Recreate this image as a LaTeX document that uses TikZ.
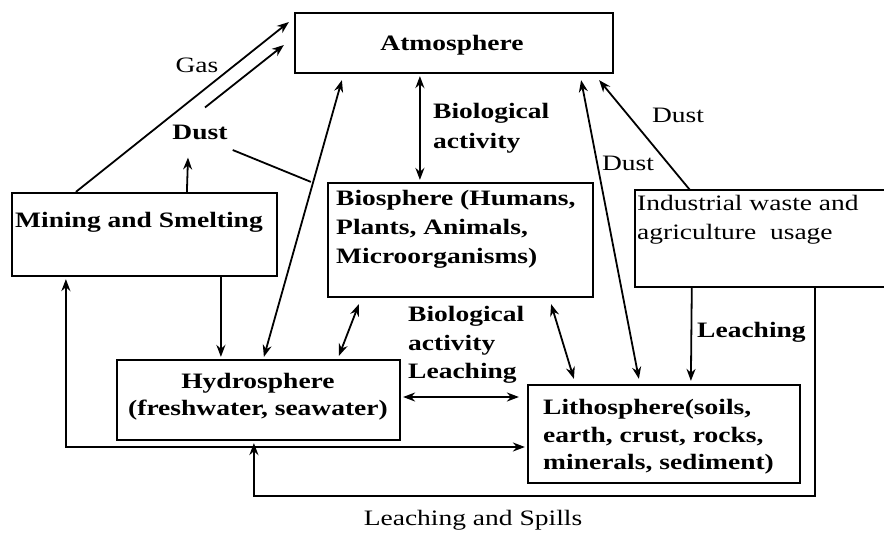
\documentclass[tikz,border=0pt]{standalone}
\usepackage{fontspec}
\setmainfont{Liberation Serif}[FakeStretch=1.25]
\usetikzlibrary{arrows.meta,calc}
\begin{document}
\begin{tikzpicture}[x=1pt,y=-1pt,
  box/.style={draw,line width=2.2pt,inner sep=0pt},
  ghost/.style={inner sep=0pt},
  txt/.style={font=\bfseries\fontsize{22}{28}\selectfont,inner sep=0pt},
  rtxt/.style={font=\fontsize{22}{28}\selectfont,inner sep=0pt},
  conn/.style={line width=1.8pt},
  arr/.style={conn,-{Stealth[length=12pt,width=9pt]}},
  darr/.style={conn,{Stealth[length=12pt,width=9pt]}-{Stealth[length=12pt,width=9pt]}}]
\useasboundingbox (0,0) rectangle (884,533);

% boxes
\node[box,minimum width=318pt,minimum height=60pt] (atm) at (454,43) {};
\node[box,minimum width=265pt,minimum height=83pt] (mine) at (144.5,234.5) {};
\node[box,minimum width=265pt,minimum height=114pt] (bio) at (460.5,240) {};
\node[ghost,minimum width=249pt,minimum height=97pt] (ind) at (759.5,238.5) {};
\draw[line width=2.2pt] (ind.north east) -- (ind.north west) -- (ind.south west) -- (ind.south east);
\node[box,minimum width=283pt,minimum height=80pt] (hyd) at (258.5,400) {};
\node[box,minimum width=272pt,minimum height=98pt] (lith) at (664,434) {};

% box texts
\node[txt] (atmt) at (452,45) {Atmosphere};
\node[txt,anchor=west] (minet) at (15,222) {Mining and Smelting};
\node[txt,anchor=west,align=left,font=\bfseries\fontsize{22}{29}\selectfont] (biot) at (336,229) {Biosphere (Humans,\\Plants, Animals,\\Microorganisms)};
\node[rtxt,anchor=west,align=left,font=\fontsize{22}{29}\selectfont] (indt) at (637,220) {Industrial waste and\\agriculture\ \ usage};
\node[txt,align=center,font=\bfseries\fontsize{22}{27}\selectfont] (hydt) at (258,397) {Hydrosphere\\(freshwater, seawater)};
\node[txt,anchor=west,align=left,font=\bfseries\fontsize{22}{27.5}\selectfont] (litht) at (543,437) {Lithosphere(soils,\\earth, crust, rocks,\\minerals, sediment)};

% labels
\node[rtxt] (gas) at (197,65) {Gas};
\node[txt] (dustL) at (200,132) {Dust};
\node[txt,anchor=west,align=left,font=\bfseries\fontsize{22}{30}\selectfont] (bioact) at (433,128) {Biological\\activity};
\node[rtxt] (dustM) at (628,163) {Dust};
\node[rtxt] (dustR) at (678,115) {Dust};
\node[txt,anchor=west] (leachR) at (697,332) {Leaching};
\node[txt,anchor=west,align=left,font=\bfseries\fontsize{22}{28.5}\selectfont] (bioleach) at (408,345) {Biological\\activity\\Leaching};
\node[rtxt] (spills) at (473,520) {Leaching and Spills};

% connectors
\draw[arr] ($(mine.north west)+(65,0)$) -- ($(atm.west)+(-5,-21)$);
\draw[arr] ($(dustL.north)+(5,-17)$) -- ($(atm.west)+(-10,2)$);
\draw[arr] ($(mine.north west)+(176,0)$) -- ($(dustL.south)+(-12,18)$);
\draw[conn] ($(dustL.east)+(5,18)$) -- ($(bio.north west)+(-16,0)$);
\draw[darr] ($(hyd.north west)+(148,-2)$) -- ($(atm.south west)+(48,6)$);
\draw[arr] ($(mine.south west)+(210,0)$) -- ($(hyd.north west)+(105,-2)$);
\draw[darr] ($(atm.south west)+(126,2)$) -- ($(bio.north west)+(93,-2)$);
\draw[darr] ($(bio.south west)+(32,6)$) -- ($(hyd.north west)+(223,-3)$);
\draw[darr] ($(bio.south east)+(-43,6)$) -- ($(lith.north west)+(47,-5)$);
\draw[darr] ($(atm.south east)+(-33,6)$) -- ($(lith.north west)+(112,-5)$);
\draw[arr] ($(ind.north west)+(55,0)$) -- ($(atm.south east)+(-15,6)$);
\draw[arr] ($(ind.south west)+(57,0)$) -- ($(lith.north west)+(164,-3)$);
\draw[darr] ($(hyd.east)+(2,-3)$) -- ($(lith.west)+(-8,-37)$);
\draw[darr] ($(mine.south west)+(55,2)$) |- ($(lith.west)+(-2,13)$);
\draw[arr] ($(ind.south west)+(180,0)$) |- ($(hyd.south west)+(138,55)$) -- ($(hyd.south west)+(138,2)$);
\end{tikzpicture}
\end{document}
